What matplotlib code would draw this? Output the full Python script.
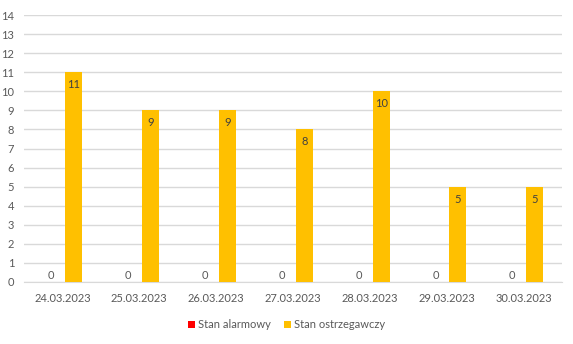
import numpy as np
import matplotlib.pyplot as plt

plt.rcParams['font.family'] = ['Lato', 'DejaVu Sans']

dates = ['24.03.2023', '25.03.2023', '26.03.2023', '27.03.2023',
         '28.03.2023', '29.03.2023', '30.03.2023']
alarm = [0, 0, 0, 0, 0, 0, 0]
warning = [11, 9, 9, 8, 10, 5, 5]

txt = '#595959'
grid = '#d9d9d9'
fs = 8

fig = plt.figure(figsize=(5.73, 3.44), dpi=100)
ax = fig.add_axes([24/573, 1 - 282/344, 538/573, 267/344])

x = np.arange(len(dates))
w = 0.22
off = 0.146
b1 = ax.bar(x - off, alarm, w, color='#ff0000', label='Stan alarmowy', zorder=3)
b2 = ax.bar(x + off, warning, w, color='#ffc000', label='Stan ostrzegawczy', zorder=3)

for xi, v in zip(x, alarm):
    ax.text(xi - off, v + 0.35, str(v), ha='center', va='center', fontsize=fs, color=txt)
for xi, v in zip(x, warning):
    ax.text(xi + off, v - 0.65, str(v), ha='center', va='center', fontsize=fs, color='#404040')

ax.set_xlim(-0.5, len(dates) - 0.5)
ax.set_ylim(0, 14)
ax.set_yticks(range(0, 15))
ax.set_xticks(x)
ax.set_xticklabels(dates)
ax.tick_params(axis='both', length=0, labelsize=fs, colors=txt)
ax.tick_params(axis='x', pad=8)
ax.tick_params(axis='y', pad=7)
ax.yaxis.grid(True, color=grid, linewidth=1, zorder=0)
for s in ['top', 'right', 'left']:
    ax.spines[s].set_visible(False)
ax.spines['bottom'].set_color(grid)

fig.legend(handles=[b1, b2], loc='center', bbox_to_anchor=(0.5, 1 - 325/344),
           ncol=2, frameon=False, fontsize=fs, labelcolor=txt,
           handlelength=0.6, handleheight=0.6, handletextpad=0.3, columnspacing=1.2)

fig.savefig('out.png', dpi=100)
